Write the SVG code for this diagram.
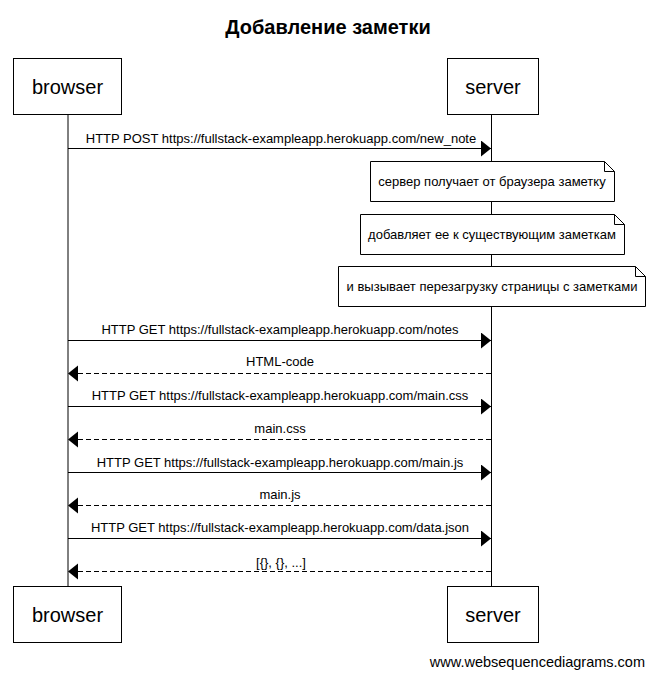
<svg xmlns="http://www.w3.org/2000/svg" width="655" height="676" viewBox="0 0 655 676">
<style>
  text { font-family: "Liberation Sans", Arial, sans-serif; fill: #000; }
  .title { font-size: 20px; font-weight: bold; text-anchor: middle; }
  .actor rect { fill: #fff; stroke: #000; stroke-width: 1; }
  .actor text { font-size: 20px; text-anchor: middle; }
  .lifeline { stroke: #000; stroke-width: 1; }
  .note path { fill: #fff; stroke: #000; stroke-width: 1; }
  .note text { font-size: 13px; text-anchor: middle; }
  .msg { stroke: #000; stroke-width: 1; fill: none; }
  .ret { stroke-dasharray: 5,3; }
  .lbl { font-size: 13px; text-anchor: middle; }
  .wm { font-size: 14.5px; text-anchor: end; }
</style>
<defs>
  <marker id="arr" markerUnits="userSpaceOnUse" markerWidth="11" markerHeight="17" refX="10" refY="8" orient="auto" viewBox="0 0 11 17">
    <path d="M0,0 L10,8 L0,16 Z" fill="#000"/>
  </marker>
</defs>
<rect width="655" height="676" fill="#fff"/>
<text class="title" x="328" y="34">Добавление заметки</text>

<g id="lifelines">
  <line class="lifeline" x1="68" y1="115" x2="68" y2="586"/>
  <line class="lifeline" x1="491.5" y1="115" x2="491.5" y2="586"/>
</g>

<g id="browser-top" class="actor"><rect x="13.5" y="58.5" width="108" height="56"/><text x="67.5" y="94">browser</text></g>
<g id="server-top" class="actor"><rect x="447.5" y="58.5" width="91" height="56"/><text x="493" y="94">server</text></g>
<g id="browser-bottom" class="actor"><rect x="13.5" y="586.5" width="108" height="56"/><text x="67.5" y="622">browser</text></g>
<g id="server-bottom" class="actor"><rect x="447.5" y="586.5" width="91" height="56"/><text x="493" y="622">server</text></g>

<g id="note1" class="note"><path d="M370.5,161.5 H604.5 L614.5,171.5 V201.5 H370.5 Z M604.5,161.5 V171.5 H614.5"/><text x="492" y="186">сервер получает от браузера заметку</text></g>
<g id="note2" class="note"><path d="M360.5,214.5 H614.5 L624.5,224.5 V254.5 H360.5 Z M614.5,214.5 V224.5 H624.5"/><text x="492" y="239">добавляет ее к существующим заметкам</text></g>
<g id="note3" class="note"><path d="M338.5,266.5 H635.5 L645.5,276.5 V306.5 H338.5 Z M635.5,266.5 V276.5 H645.5"/><text x="492" y="291">и вызывает перезагрузку страницы с заметками</text></g>

<g id="connectors">
  <line class="msg" x1="68" y1="148.5" x2="491" y2="148.5" marker-end="url(#arr)"/>
  <text class="lbl" x="281" y="143">HTTP POST https://fullstack-exampleapp.herokuapp.com/new_note</text>
  <line class="msg" x1="68" y1="340.5" x2="491" y2="340.5" marker-end="url(#arr)"/>
  <text class="lbl" x="280" y="334">HTTP GET https://fullstack-exampleapp.herokuapp.com/notes</text>
  <line class="msg ret" x1="491" y1="373.5" x2="68" y2="373.5" marker-end="url(#arr)"/>
  <text class="lbl" x="280" y="366">HTML-code</text>
  <line class="msg" x1="68" y1="406.5" x2="491" y2="406.5" marker-end="url(#arr)"/>
  <text class="lbl" x="280" y="400">HTTP GET https://fullstack-exampleapp.herokuapp.com/main.css</text>
  <line class="msg ret" x1="491" y1="439.5" x2="68" y2="439.5" marker-end="url(#arr)"/>
  <text class="lbl" x="280" y="433">main.css</text>
  <line class="msg" x1="68" y1="472.5" x2="491" y2="472.5" marker-end="url(#arr)"/>
  <text class="lbl" x="280" y="467">HTTP GET https://fullstack-exampleapp.herokuapp.com/main.js</text>
  <line class="msg ret" x1="491" y1="505.5" x2="68" y2="505.5" marker-end="url(#arr)"/>
  <text class="lbl" x="280" y="499">main.js</text>
  <line class="msg" x1="68" y1="538.5" x2="491" y2="538.5" marker-end="url(#arr)"/>
  <text class="lbl" x="280" y="532">HTTP GET https://fullstack-exampleapp.herokuapp.com/data.json</text>
  <line class="msg ret" x1="491" y1="571.5" x2="68" y2="571.5" marker-end="url(#arr)"/>
  <text class="lbl" x="281" y="567">[{}, {}, ...]</text>
</g>

<text class="wm" x="645" y="667">www.websequencediagrams.com</text>
</svg>
